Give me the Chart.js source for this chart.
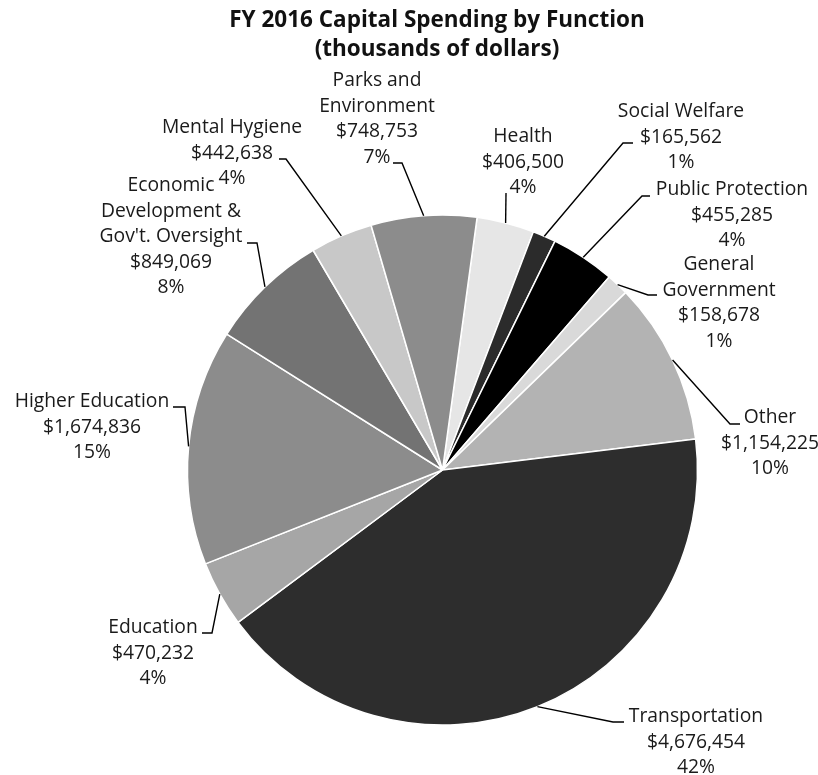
<!DOCTYPE html>
<html>
<head>
<meta charset="utf-8">
<title>FY 2016 Capital Spending by Function</title>
<script src="https://cdn.jsdelivr.net/npm/chart.js@4.4.1/dist/chart.umd.min.js"></script>
<style>
    html, body { margin: 0; padding: 0; background: #fff; }
    canvas { display: block; }
</style>
</head>
<body>
<canvas id="pie-chart" width="818" height="775"></canvas>
<script>
// Datos (miles de dólares), en el orden del gráfico, en sentido horario
const categories = ['Health', 'Social Welfare', 'Public Protection', 'General Government', 'Other',
    'Transportation', 'Education', 'Higher Education', "Economic Development & Gov't. Oversight",
    'Mental Hygiene', 'Parks and Environment'];
const spending = [406500, 165562, 455285, 158678, 1154225, 4676454, 470232, 1674836, 849069, 442638, 748753];
const sliceColors = ['#e6e6e6', '#2b2b2b', '#000000', '#d9d9d9', '#b3b3b3',
    '#2d2d2d', '#a6a6a6', '#8c8c8c', '#737373', '#c8c8c8', '#8c8c8c'];
const labelLines = [['Health'], ['Social Welfare'], ['Public Protection'], ['General', 'Government'], ['Other'],
    ['Transportation'], ['Education'], ['Higher Education'], ['Economic', 'Development &', "Gov't. Oversight"],
    ['Mental Hygiene'], ['Parks and', 'Environment']];
const titleLines = ['FY 2016 Capital Spending by Function', '(thousands of dollars)'];

// Posición de las etiquetas: centro del texto, primera línea, codo y fin de la línea guía
const calloutLayout = [
    { cx: 523, y: 137, ex: 506, ey: 193, hx: 506 },
    { cx: 681, y: 112, ex: 623, ey: 143, hx: 633 },
    { cx: 732, y: 190, ex: 642, ey: 196, hx: 650 },
    { cx: 719, y: 265, ex: 648, ey: 295, hx: 657 },
    { cx: 770, y: 418, ex: 730, ey: 424, hx: 740 },
    { cx: 696, y: 717, ex: 613, ey: 722, hx: 624 },
    { cx: 153, y: 628, ex: 212, ey: 633, hx: 202 },
    { cx: 92, y: 402, ex: 185, ey: 407, hx: 173 },
    { cx: 171, y: 186, ex: 257, ey: 243, hx: 247 },
    { cx: 232, y: 128, ex: 286, ey: 159, hx: 279 },
    { cx: 377, y: 81, ex: 402, ey: 163, hx: 393 }
];
const lineHeight = 25.4;
const labelFont = '19.3px "Open Sans", Lato, sans-serif';

const total = spending.reduce((a, b) => a + b, 0);

// Plugin: título y etiquetas con líneas guía
const calloutPlugin = {
    id: 'calloutLabels',
    afterDraw(chart) {
        const ctx = chart.ctx;
        const meta = chart.getDatasetMeta(0);

        ctx.save();
        ctx.fillStyle = '#111';
        ctx.textAlign = 'center';
        ctx.textBaseline = 'middle';
        ctx.font = 'bold 22.5px "Open Sans", Lato, sans-serif';
        titleLines.forEach((t, i) => ctx.fillText(t, 437, 21 + i * 29));

        meta.data.forEach((arc, i) => {
            const p = arc.getProps(['x', 'y', 'startAngle', 'endAngle', 'outerRadius'], true);
            const mid = (p.startAngle + p.endAngle) / 2;
            const ax = p.x + Math.cos(mid) * p.outerRadius;
            const ay = p.y + Math.sin(mid) * p.outerRadius;
            const lay = calloutLayout[i];

            ctx.strokeStyle = '#000';
            ctx.lineWidth = 1.4;
            ctx.beginPath();
            ctx.moveTo(ax, ay);
            ctx.lineTo(lay.ex, lay.ey);
            ctx.lineTo(lay.hx, lay.ey);
            ctx.stroke();

            const value = spending[i];
            const lines = labelLines[i].concat([
                '$' + value.toLocaleString('en-US'),
                Math.round(value / total * 100) + '%'
            ]);
            ctx.font = labelFont;
            ctx.fillStyle = '#1a1a1a';
            lines.forEach((t, j) => ctx.fillText(t, lay.cx, lay.y + j * lineHeight));
        });
        ctx.restore();
    }
};

const pieChart = new Chart(document.getElementById('pie-chart').getContext('2d'), {
    type: 'pie',
    data: {
        labels: categories,
        datasets: [{
            data: spending,
            backgroundColor: sliceColors,
            borderColor: '#ffffff',
            borderWidth: 1.5
        }]
    },
    options: {
        responsive: false,
        animation: false,
        rotation: 7.8,
        radius: 255,
        layout: {
            padding: { left: 187, right: 120, top: 215, bottom: 50 }
        },
        plugins: {
            legend: { display: false },
            tooltip: { enabled: false },
            title: { display: false }
        }
    },
    plugins: [calloutPlugin]
});
</script>
</body>
</html>
